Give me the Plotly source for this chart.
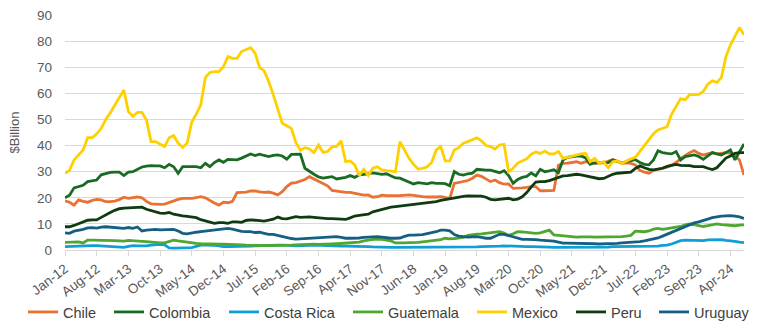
import plotly.graph_objects as go
import pandas as pd

months = [d.strftime("%b-%y") for d in pd.date_range("2012-01-01", "2024-07-01", freq="MS")]
tick_labels = months[::7]

chile = [18.8,18.3,17.2,19.2,18.6,18.3,19.0,19.4,19.2,18.5,18.5,18.7,19.3,20.2,19.8,20.0,20.3,20.0,18.6,17.7,
         17.5,17.5,17.6,18.3,18.9,19.4,19.8,19.8,19.8,20.1,20.4,20.0,18.9,18.0,17.2,18.3,18.1,18.6,22.0,22.1,
         22.2,22.6,22.6,22.3,22.1,22.2,21.8,21.1,22.3,24.3,25.6,25.8,26.3,27.0,28.1,27.3,26.2,25.6,24.6,22.8,
         22.5,22.2,22.1,22.1,21.8,21.5,21.0,21.1,20.2,20.4,21.0,20.8,20.7,20.8,20.8,21.0,21.1,20.9,20.6,20.4,
         20.3,20.2,20.3,20.4,20.2,19.8,25.5,25.8,26.2,26.6,27.5,28.7,28.2,27.2,26.2,26.8,25.8,25.2,25.3,23.6,
         23.6,23.8,24.0,24.3,24.3,22.7,22.7,22.7,22.8,32.5,33.2,33.3,33.6,33.8,33.2,33.8,33.5,33.2,33.4,33.5,
         34.0,34.7,34.0,33.2,33.4,33.2,32.6,30.5,29.8,29.4,30.5,31.0,31.3,31.7,32.5,33.5,35.0,36.3,37.3,38.1,
         37.0,36.4,36.9,37.3,36.8,37.0,37.3,37.0,36.0,34.5,28.7]
colombia = [20.0,21.0,23.8,24.2,24.8,26.2,26.5,26.8,28.8,29.3,29.7,29.8,29.8,28.5,29.8,30.0,31.0,31.8,32.1,32.3,
            32.2,32.2,31.5,32.8,31.9,29.4,31.9,31.9,31.9,31.9,31.5,33.2,31.9,33.5,34.5,33.6,34.7,34.6,34.5,35.2,
            36.0,36.8,36.2,36.7,36.2,35.8,36.2,36.4,36.0,34.8,36.6,36.6,36.7,31.3,30.0,29.0,28.0,27.5,27.8,28.1,
            27.2,27.6,27.8,28.5,27.8,28.8,28.9,29.2,29.5,29.3,29.0,29.2,28.3,27.6,27.5,26.8,25.8,25.3,25.8,25.5,
            25.3,25.8,25.5,25.5,25.4,24.6,30.0,29.0,28.7,29.2,29.4,30.9,30.7,30.6,30.6,30.2,29.6,30.4,28.5,25.5,
            27.0,27.8,28.2,29.5,28.4,30.9,30.0,30.3,30.7,29.6,34.5,35.5,35.8,36.0,36.0,35.3,32.8,33.4,33.4,33.4,
            33.5,34.5,33.8,33.4,33.8,34.2,34.6,33.5,32.8,32.6,34.5,38.0,37.3,37.0,36.8,37.7,34.5,35.8,36.0,36.4,
            35.8,34.7,36.0,37.3,36.8,36.4,37.3,38.3,34.5,37.7,40.6]
costa_rica = [1.3,1.4,1.5,1.6,1.7,1.7,1.7,1.7,1.6,1.5,1.4,1.2,1.1,1.0,1.4,1.7,1.6,1.5,1.6,1.9,
              2.0,2.2,2.0,0.8,0.7,0.7,0.7,0.8,0.9,1.4,1.9,1.9,1.9,1.8,1.6,1.3,1.3,1.3,1.3,1.3,
              1.4,1.5,1.6,1.7,1.7,1.7,1.8,1.9,1.9,1.9,1.8,1.6,1.6,1.7,1.8,1.9,1.8,1.7,1.6,1.6,
              1.6,1.5,1.5,1.5,1.4,1.4,1.3,1.3,1.2,1.1,1.0,1.0,1.0,1.0,1.0,1.0,1.0,1.0,1.0,1.0,
              1.0,1.0,1.0,1.0,1.0,1.0,1.0,1.0,1.0,1.2,1.2,1.2,1.3,1.3,1.3,1.3,1.5,1.6,1.5,1.4,
              1.3,1.3,1.3,1.3,1.3,1.1,1.1,1.1,1.0,1.0,1.0,1.0,1.0,1.0,1.0,1.0,1.0,1.1,1.1,1.1,
              1.1,1.3,1.3,1.3,1.3,1.3,1.3,1.3,1.4,1.5,1.5,1.5,1.8,1.9,2.3,3.0,3.6,3.8,3.8,3.8,
              3.8,3.6,3.9,4.0,4.1,4.0,3.7,3.6,3.3,3.0,2.8]
guatemala = [2.9,2.9,3.0,3.1,2.7,3.8,3.8,3.8,3.7,3.7,3.6,3.6,3.5,3.4,3.7,3.5,3.4,3.3,3.2,3.0,
             2.7,2.7,2.7,3.4,3.8,3.5,3.2,2.9,2.6,2.5,2.4,2.3,2.3,2.2,2.2,2.2,2.2,2.2,2.1,2.0,
             1.9,1.8,1.7,1.7,1.7,1.7,1.7,1.8,1.9,1.9,1.9,2.0,2.1,2.2,2.2,2.2,2.1,2.1,2.2,2.3,
             2.4,2.5,2.6,2.6,2.7,3.0,3.5,3.9,4.1,4.1,4.1,3.8,3.5,2.7,2.6,2.7,2.8,2.8,2.9,3.1,
             3.3,3.5,3.7,4.0,4.5,4.3,4.4,4.5,4.8,5.6,5.9,6.1,6.2,6.4,6.5,6.8,7.0,6.5,5.6,6.2,
             7.0,6.9,6.8,6.6,6.4,6.6,7.0,7.6,5.8,5.6,5.4,5.3,5.0,4.9,5.0,5.1,5.0,4.9,4.9,4.9,
             4.9,4.9,5.0,5.1,5.3,5.6,7.2,7.1,7.0,7.3,8.0,8.3,7.9,8.2,8.4,8.7,9.0,9.6,10.0,9.7,
             9.3,9.0,9.3,9.7,10.0,9.7,9.5,9.3,9.3,9.5,9.6]
mexico = [29.4,30.5,34.5,36.5,38.3,43.0,43.0,44.5,46.5,50.0,52.5,55.5,58.5,61.3,53.0,51.2,52.7,52.7,49.8,41.5,
          41.5,40.5,39.6,43.0,43.8,40.9,39.3,41.0,49.0,52.0,55.6,66.0,68.0,68.3,68.3,70.2,74.1,73.4,73.4,76.0,
          76.6,77.5,75.4,69.8,68.6,64.5,59.5,53.5,48.5,47.6,46.6,41.2,38.2,39.2,38.7,37.3,40.2,37.4,37.7,39.5,
          39.7,41.8,33.8,34.1,32.6,28.5,30.9,28.5,31.3,31.9,30.7,30.4,30.2,30.0,41.5,38.0,35.1,32.8,31.0,31.3,
          31.9,33.5,38.3,39.6,34.1,34.1,38.3,39.2,40.9,41.5,42.1,43.0,41.8,40.0,39.6,38.7,40.2,40.5,30.0,31.3,
          33.3,34.2,34.9,36.7,37.5,37.0,37.9,36.8,36.8,37.7,35.1,35.5,36.0,36.4,36.8,37.0,33.8,35.1,33.2,33.8,
          31.5,33.8,34.1,33.2,34.1,34.9,35.5,37.7,40.0,42.1,44.5,46.0,46.6,47.2,52.0,55.0,58.0,57.5,59.5,59.5,
          59.6,60.7,63.5,64.8,64.2,66.0,74.0,78.5,82.0,85.2,82.4]
peru = [8.9,8.9,9.4,10.0,10.9,11.4,11.5,11.5,12.5,13.6,14.4,15.2,15.8,16.0,16.2,16.2,16.3,16.4,15.6,15.0,
        14.6,14.1,14.0,14.4,13.7,13.3,13.1,12.9,12.6,12.4,11.6,11.1,10.7,10.2,10.5,10.5,10.2,10.8,10.8,10.6,
        11.3,11.5,11.4,11.2,11.1,11.4,11.8,12.6,12.0,11.9,12.4,12.8,12.5,12.6,12.7,12.5,12.3,12.1,12.0,12.0,
        11.9,11.7,11.7,12.3,13.0,13.3,13.4,13.7,14.6,15.1,15.4,16.0,16.4,16.6,16.8,17.0,17.2,17.4,17.6,17.8,
        18.0,18.2,18.5,19.0,19.3,19.6,20.1,20.3,20.5,20.7,20.7,20.7,20.6,20.2,19.4,19.2,19.4,19.6,19.8,19.2,
        19.5,20.4,22.0,24.2,26.0,26.2,26.2,26.6,27.2,27.9,28.4,28.5,28.7,29.0,28.8,28.4,28.1,27.8,27.3,27.4,
        28.2,29.0,29.4,29.6,29.6,29.8,31.2,32.2,31.5,30.9,30.7,31.0,31.3,32.0,32.5,32.8,32.4,32.3,32.3,31.9,
        31.8,31.9,31.3,30.8,31.5,33.5,35.2,36.0,37.0,37.3,37.3]
uruguay = [6.6,6.4,7.2,7.5,7.9,8.5,8.6,8.4,8.8,8.9,8.8,8.6,8.4,8.3,8.6,8.3,8.8,7.3,7.6,7.8,
           7.9,7.7,7.8,7.9,7.9,7.3,6.4,6.2,6.6,6.8,7.0,7.2,7.4,7.6,7.8,8.0,8.3,8.0,7.6,7.1,
           7.0,7.0,6.7,6.8,6.4,6.0,6.0,5.6,5.1,4.6,4.4,4.2,4.3,4.4,4.5,4.6,4.7,4.7,4.9,5.0,
           5.1,4.8,4.5,4.5,4.5,4.6,4.8,4.9,5.0,5.1,4.9,4.6,4.5,4.5,4.6,5.2,5.7,5.7,5.7,5.9,
           6.3,6.6,7.0,7.6,7.6,7.3,5.9,5.3,5.1,4.9,5.0,5.1,4.8,4.5,4.5,5.3,6.0,6.0,5.5,4.9,
           4.5,4.1,4.1,4.1,4.0,3.8,3.7,3.6,3.4,3.0,2.6,2.6,2.6,2.6,2.6,2.6,2.5,2.4,2.3,2.3,
           2.3,2.3,2.5,2.7,2.8,3.0,3.1,3.2,3.5,3.8,4.1,4.6,5.3,6.0,6.8,7.5,8.3,9.0,9.8,10.4,
           10.8,11.2,11.8,12.4,12.8,13.0,13.1,13.2,13.0,12.7,12.1]

series = [
    ("Chile", chile, "#E97132"),
    ("Colombia", colombia, "#196B24"),
    ("Costa Rica", costa_rica, "#0F9ED5"),
    ("Guatemala", guatemala, "#4EA72E"),
    ("Mexico", mexico, "#FFD000"),
    ("Peru", peru, "#0F3B12"),
    ("Uruguay", uruguay, "#156082"),
]
# left edge (px) of each legend entry's line sample
legend_left_px = [28, 114, 229, 353, 477, 576, 659]

FONT = "Liberation Sans, Arial, sans-serif"
TXT = "#595959"
W, H = 764, 332

fig = go.Figure()
legend_layouts = {}
for k, ((name, vals, col), lx) in enumerate(zip(series, legend_left_px)):
    lname = "legend" if k == 0 else f"legend{k + 1}"
    fig.add_trace(go.Scatter(x=months, y=vals, name=name, mode="lines",
                             line=dict(color=col, width=2.8), legend=lname))
    legend_layouts[lname] = dict(
        orientation="h", xref="container", yref="container",
        x=(lx - 5) / W, xanchor="left", y=(H - 312) / H, yanchor="middle",
        font=dict(size=14.5, color="#404040"), bgcolor="rgba(0,0,0,0)",
    )

fig.update_layout(
    width=W, height=H,
    margin=dict(l=65, r=20, t=15, b=82, autoexpand=False),
    paper_bgcolor="white", plot_bgcolor="white",
    font=dict(family=FONT, color=TXT, size=13),
    showlegend=True,
    **legend_layouts,
)
fig.update_xaxes(
    type="category", range=[0, len(months) - 1], automargin=False,
    tickmode="array", tickvals=tick_labels, ticktext=tick_labels,
    tickangle=-37, tickfont=dict(size=13.5, color=TXT),
    showgrid=False, showline=True, linecolor="#d9d9d9", linewidth=1,
    ticks="outside", ticklen=5, tickcolor="#d9d9d9",
    zeroline=False,
)
fig.update_yaxes(
    range=[0, 90], dtick=10, showgrid=True, gridcolor="#d9d9d9", gridwidth=1,
    zeroline=False, showline=False, tickfont=dict(size=13.5, color=TXT),
    ticklabelstandoff=12, automargin=False,
    title=dict(text="$Billion", font=dict(size=13, color=TXT), standoff=14),
)

fig.write_html("out.html")
